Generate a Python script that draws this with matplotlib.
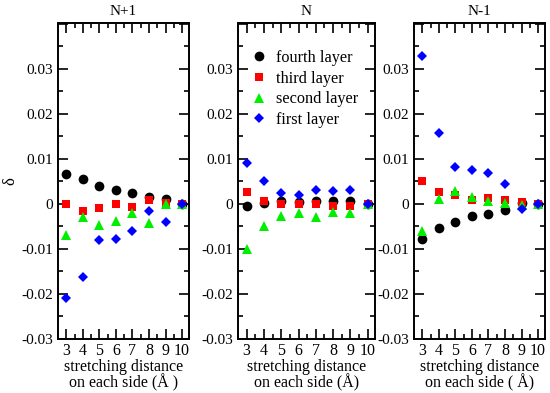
import numpy as np
import matplotlib

matplotlib.use('Agg')

import matplotlib.pyplot as plt
from matplotlib.ticker import MultipleLocator, FuncFormatter

plt.rcParams['font.family'] = ['Liberation Serif', 'DejaVu Serif']
plt.rcParams['font.size'] = 11

# stretching distance on each side (angstrom)
distance = [3, 4, 5, 6, 7, 8, 9, 10]

titles = ['N+1', 'N', 'N-1']
xlabels = ['stretching distance\non each side (Å )',
           'stretching distance\non each side (Å)',
           'stretching distance\non each side ( Å)']

# N+1
np1_fourth = [0.0067, 0.0055, 0.0041, 0.0031, 0.0025, 0.0015, 0.0010, 0.0]
np1_third = [0.0, -0.0016, -0.0009, 0.0, -0.0006, 0.0009, 0.0002, 0.0]
np1_second = [-0.0070, -0.0030, -0.0047, -0.0037, -0.0019, -0.0042, 0.0, 0.0]
np1_first = [-0.0210, -0.0162, -0.0081, -0.0077, -0.0060, -0.0016, -0.0040, 0.0]

# N
n_fourth = [-0.0004, 0.0002, 0.0007, 0.0005, 0.0007, 0.0006, 0.0007, 0.0]
n_third = [0.0027, 0.0006, 0.0, 0.0, 0.0, -0.0004, -0.0004, 0.0]
n_second = [-0.0099, -0.0049, -0.0027, -0.0021, -0.0028, -0.0017, -0.0020, 0.0]
n_first = [0.0092, 0.0051, 0.0025, 0.0021, 0.0030, 0.0028, 0.0030, 0.0]

# N-1
nm1_fourth = [-0.0078, -0.0054, -0.0039, -0.0027, -0.0023, -0.0014, 0.0003, 0.0]
nm1_third = [0.0050, 0.0027, 0.0020, 0.0009, 0.0013, 0.0009, 0.0004, 0.0]
nm1_second = [-0.0061, 0.0010, 0.0028, 0.0016, 0.0007, 0.0002, -0.0002, 0.0]
nm1_first = [0.0329, 0.0157, 0.0082, 0.0076, 0.0069, 0.0044, -0.0012, 0.0]

panels = [
    (np1_fourth, np1_third, np1_second, np1_first),
    (n_fourth, n_third, n_second, n_first),
    (nm1_fourth, nm1_third, nm1_second, nm1_first),
]
layer_names = ['fourth layer', 'third layer', 'second layer', 'first layer']
styles = [('o', 'black', 7.0), ('s', 'red', 6.2), ('^', '#00ee00', 7.0), ('D', 'blue', 5.6)]

fig = plt.figure(figsize=(5.5, 3.93), dpi=100)
boxes = [
    [58 / 550, 1 - 339 / 393, 131 / 550, 316 / 393],
    [238 / 550, 1 - 339 / 393, 137 / 550, 316 / 393],
    [414 / 550, 1 - 339 / 393, 131 / 550, 316 / 393],
]


def fmt(v, pos):
    if abs(v) < 1e-9:
        return '0'
    if v > 0.035:
        return ''
    return '%.2f' % v


for k, (box, series) in enumerate(zip(boxes, panels)):
    ax = fig.add_axes(box)
    for vals, name, (m, c, s) in zip(series, layer_names, styles):
        ax.plot(distance, vals, linestyle='none', marker=m, color=c,
                markersize=s, markeredgewidth=0, label=name)
    ax.set_xlim(2.5, 10.42)
    ax.set_ylim(-0.03, 0.0402)
    ax.set_xticks(distance)
    ax.xaxis.set_minor_locator(MultipleLocator(0.5))
    ax.yaxis.set_major_locator(MultipleLocator(0.01))
    ax.yaxis.set_minor_locator(MultipleLocator(0.005))
    ax.yaxis.set_major_formatter(FuncFormatter(fmt))
    ax.tick_params(which='both', direction='in', top=True, right=True, width=1.2)
    ax.tick_params(which='major', length=7, labelsize=11)
    ax.tick_params(which='minor', length=3.5)
    ax.tick_params(axis='x', which='major', pad=3, labelsize=11.5)
    for sp in ax.spines.values():
        sp.set_linewidth(1.4)
    ax.set_title(titles[k], fontsize=11, pad=6)
    ax.set_xlabel(xlabels[k], fontsize=11.5, labelpad=0, linespacing=0.9)
    if k == 0:
        ax.set_ylabel('δ', fontsize=12, labelpad=2)
    if k == 1:
        ax.legend(loc='upper left', frameon=False, fontsize=11.7, handletextpad=0.35,
                  borderaxespad=0.3, labelspacing=0.28, handlelength=1.4,
                  bbox_to_anchor=(-0.01, 0.95))

fig.savefig('out.png', dpi=100)
